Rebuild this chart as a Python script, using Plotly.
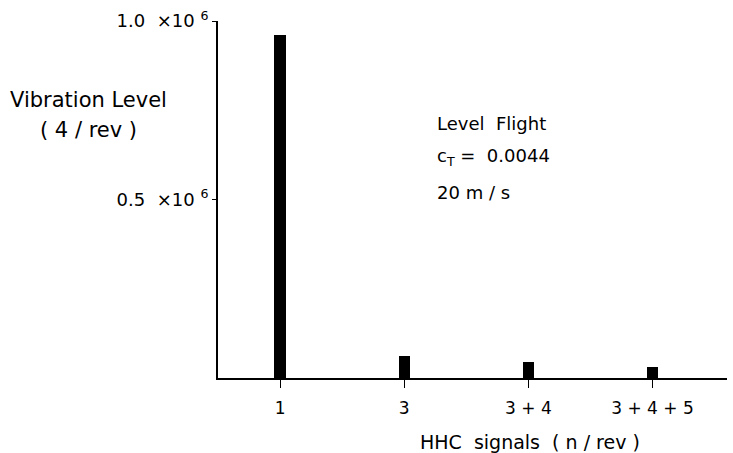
import plotly.graph_objects as go

categories = ["1", "3", "3 + 4", "3 + 4 + 5"]
vibration = [0.961e6, 0.062e6, 0.045e6, 0.031e6]
y_tick_vals = [0.5e6, 1.0e6]
y_tick_text = ["0.5  ×10 <sup>6</sup>", "1.0  ×10 <sup>6</sup>"]

FONT = "DejaVu Sans"

fig = go.Figure()
fig.add_trace(go.Bar(
    x=list(range(len(categories))),
    y=vibration,
    width=0.09,
    marker=dict(color="black", line=dict(width=0)),
))

W, H = 733, 453
L, R, T, B = 218, 6, 21, 75
pw, ph = W - L - R, H - T - B

def px(x):
    return (x - L) / pw

def py(y):
    return (H - B - y) / ph

fig.update_layout(
    width=W, height=H,
    margin=dict(l=L, r=R, t=T, b=B),
    paper_bgcolor="white", plot_bgcolor="white",
    showlegend=False,
    font=dict(family=FONT, color="black", size=17),
    bargap=0,
)
fig.update_xaxes(
    range=[-0.5, 3.6],
    tickmode="array",
    tickvals=list(range(len(categories))),
    ticktext=categories,
    ticks="outside", ticklen=8, tickwidth=1, tickcolor="black",
    ticklabelstandoff=6,
    showline=True, linewidth=2, linecolor="black",
    showgrid=False, zeroline=False,
    tickfont=dict(size=17),
)
fig.update_yaxes(
    range=[0, 1.0e6],
    tickmode="array",
    tickvals=y_tick_vals,
    ticktext=y_tick_text,
    ticks="outside", ticklen=4, tickwidth=1, tickcolor="black",
    showline=True, linewidth=2, linecolor="black",
    showgrid=False, zeroline=False,
    tickfont=dict(size=18),
)

ann = [
    dict(text="Vibration Level", x=px(88), y=py(100), size=21, xanchor="center"),
    dict(text="( 4 / rev )", x=px(88), y=py(130), size=21, xanchor="center"),
    dict(text="Level  Flight", x=px(435), y=py(123), size=18, xanchor="left"),
    dict(text="c<sub>T</sub> =  0.0044", x=px(435), y=py(157), size=18, xanchor="left"),
    dict(text="20 m / s", x=px(435), y=py(192), size=18, xanchor="left"),
    dict(text="HHC  signals  ( n / rev )", x=px(530), y=py(442), size=19, xanchor="center"),
]
for a in ann:
    fig.add_annotation(
        text=a["text"], x=a["x"], y=a["y"], xref="paper", yref="paper",
        xanchor=a["xanchor"], yanchor="middle", showarrow=False,
        font=dict(family=FONT, size=a["size"], color="black"),
    )

fig.write_html(
    "out.html",
    config={"displayModeBar": False},
    post_script="document.body.style.margin='0px';",
)
